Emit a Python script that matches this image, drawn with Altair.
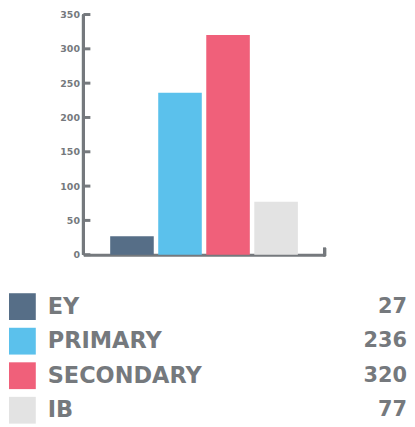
import altair as alt
import pandas as pd

categories = ["EY", "PRIMARY", "SECONDARY", "IB"]
values = [27, 236, 320, 77]
colors = ["#566e87", "#5bc1ec", "#f0607a", "#e3e3e3"]
y_ticks = [0, 50, 100, 150, 200, 250, 300, 350]

GRAY = "#75797d"
FONT = "DejaVu Sans"

df = pd.DataFrame({"cat": categories, "value": values})
df["label"] = df["value"].astype(str)
ticks_df = pd.DataFrame({"t": y_ticks})

color_scale = alt.Scale(domain=categories, range=colors)
ydom = alt.Scale(domain=[0, 350], nice=False)

y_axis = alt.Axis(values=y_ticks, title=None, domain=False, ticks=False,
                  grid=False, labelOverlap=False, labelFlush=False,
                  labelPadding=4, labelFont=FONT, labelFontSize=9.5,
                  labelFontWeight="bold", labelColor=GRAY)

base = alt.Chart(df)

bars = base.mark_bar().encode(
    x=alt.X("cat:N", sort=categories,
            scale=alt.Scale(paddingInner=0.093, paddingOuter=0.557),
            axis=alt.Axis(labels=False, ticks=False, title=None, domainWidth=3,
                          domainColor=GRAY)),
    y=alt.Y("value:Q", scale=ydom, axis=y_axis),
    color=alt.Color("cat:N", scale=color_scale, legend=None),
)

tick_marks = alt.Chart(ticks_df).mark_rule(color=GRAY, strokeWidth=3).encode(
    y=alt.Y("t:Q", scale=ydom, axis=y_axis), x=alt.value(0), x2=alt.value(7)
)

ydomain_line = base.mark_rule(color=GRAY, strokeWidth=3).encode(
    x=alt.value(0), y=alt.datum(0, scale=ydom, axis=y_axis), y2=alt.datum(350)
)

end_tick = base.mark_rule(color=GRAY, strokeWidth=3).encode(
    x=alt.value(243), y=alt.value(243.5), y2=alt.value(235)
)

chart_part = alt.layer(bars, tick_marks, ydomain_line, end_tick)

leg_y = alt.Y("cat:N", sort=categories,
              scale=alt.Scale(range=[294.3, 398.7], padding=0), axis=None)

leg_sq = base.mark_square(size=729, opacity=1, strokeWidth=0).encode(
    x=alt.value(-61.5), y=leg_y,
    color=alt.Color("cat:N", scale=color_scale, legend=None),
)
leg_txt = base.mark_text(align="left", baseline="middle", font=FONT,
                         fontSize=22.6, fontWeight="bold", color=GRAY).encode(
    x=alt.value(-36), y=leg_y, text="cat:N"
)
leg_val = base.mark_text(align="right", baseline="middle", font=FONT,
                         fontSize=21, fontWeight="bold", color=GRAY).encode(
    x=alt.value(326), y=leg_y, text="label:N"
)

legend_part = alt.layer(leg_sq, leg_txt, leg_val)

chart = alt.layer(chart_part, legend_part).resolve_scale(y="independent").properties(
    width=243, height=242,
    padding={"left": 1, "top": 0, "right": 0, "bottom": 0},
).configure_view(stroke=None)

chart.save("out.html", embed_options={"renderer": "svg", "actions": False})
